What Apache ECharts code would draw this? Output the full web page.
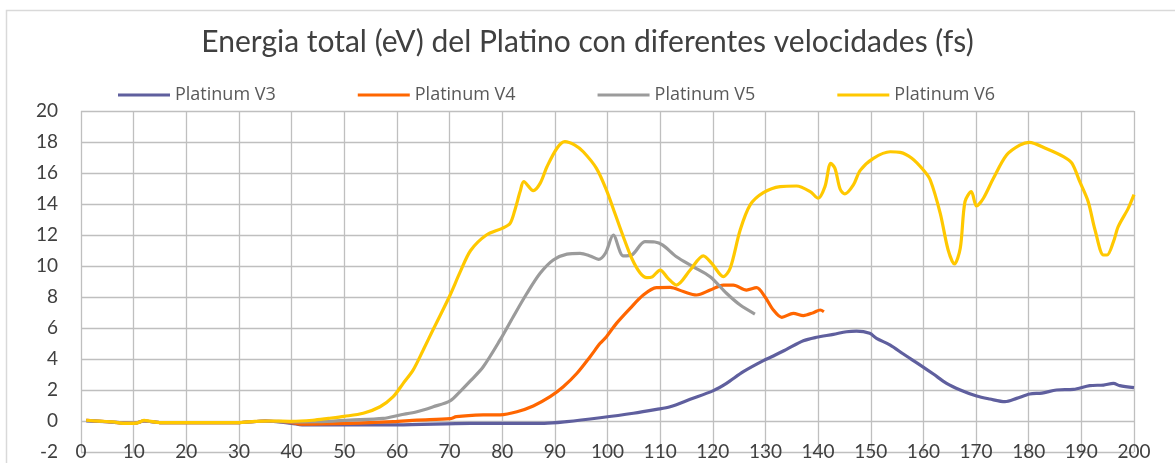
<!DOCTYPE html>
<html>
<head>
<meta charset="utf-8">
<script src="https://cdn.jsdelivr.net/npm/echarts@6/dist/echarts.min.js"></script>
<style>
html,body{margin:0;padding:0;background:#fff;}
#chart{width:1175px;height:463px;}
</style>
</head>
<body>
<div id="chart"></div>
<script>
const titleText = 'Energia total (eV) del Platino con diferentes velocidades (fs)';
const seriesNames = ['Platinum V3', 'Platinum V4', 'Platinum V5', 'Platinum V6'];
const seriesColors = ['#5F5F9E', '#FF6600', '#9B9B9B', '#FFC800'];

const v3X = [1,5,10,12,15,30,35,40,42,60,74,88,92.3,98.6,104.9,109.3,111.9,115.7,120.1,122.6,125.8,129.6,131.5,134,137.2,139.7,142.9,145.4,147.3,149.8,151.1,153.7,156.2,159.4,161.9,164.4,167,170.1,172.6,175.5,177.7,180.2,182.5,185.3,188.5,191.6,194.2,196.1,197.3,200];
const v3Y = [0,-0.05,-0.15,0,-0.1,-0.1,0,-0.15,-0.25,-0.25,-0.15,-0.15,-0.04,0.21,0.5,0.75,0.92,1.4,1.96,2.43,3.18,3.89,4.19,4.62,5.18,5.4,5.59,5.76,5.8,5.66,5.33,4.9,4.32,3.61,3.03,2.43,2.0,1.61,1.42,1.25,1.46,1.74,1.8,2.0,2.04,2.28,2.32,2.43,2.28,2.15];

const v4X = [1,5,10,12,15,30,35,40,41.6,51,59.3,63.8,70.1,71.3,76.4,79.6,82.8,85.9,89.1,91.6,94.2,96.7,98.6,99.8,101.7,104.3,106.8,109.3,111.9,114.4,116.9,119.5,122,123.9,126.4,128.3,129.9,131.5,133.1,135.3,137.2,139.1,140.4,141.1];
const v4Y = [0.05,-0.05,-0.15,0,-0.1,-0.1,0,-0.1,-0.2,-0.15,-0.04,0.06,0.15,0.28,0.39,0.4,0.6,0.97,1.57,2.21,3.08,4.15,5.01,5.44,6.3,7.27,8.13,8.6,8.62,8.35,8.13,8.45,8.77,8.77,8.45,8.6,8.02,7.16,6.69,6.95,6.8,6.99,7.16,7.05];

const v5X = [1,5,10,12,15,30,35,40,45,51,57.4,60.6,63.8,66.9,70.1,72,74,76.4,79.6,82.1,84.7,87.2,89.7,92.3,94.8,96.7,98.3,99.6,101.1,103,104.6,107.1,109,110.5,113.1,116.3,119.5,122.6,125.2,128];
const v5Y = [0.05,-0.05,-0.15,0,-0.1,-0.1,0,-0.05,-0.04,0.06,0.17,0.39,0.6,0.92,1.3,1.9,2.6,3.5,5.23,6.73,8.24,9.53,10.39,10.77,10.82,10.65,10.43,10.82,12.0,10.65,10.71,11.57,11.55,11.35,10.6,9.95,9.31,8.24,7.48,6.9];

const v6X = [1,3,6,8,10,11,12,13,15,20,25,30,33,36,40,44,47,50,53.6,56.8,59.3,61.2,63.1,65,67,70,72,74,77,80,81.5,82.4,83.4,84.1,85.9,87.2,88.5,90.4,91.9,93.8,95.4,97.9,99.8,101.4,103,104.6,106.2,107.5,108.5,110,111.5,113.1,115.7,118.2,119.8,122,123.3,125.2,127.1,129.6,132.8,135.9,138.5,140,141.3,142.4,143.2,144.2,145.1,146.7,148,150.5,153.7,155.6,157.8,160,161.3,163.2,164.7,165.9,167,167.9,169.1,170.1,171.4,173.3,175.8,178.3,180.1,183.4,186.6,188.2,189.7,191.3,192.6,194.2,194.9,196.1,197,198.9,200];
const v6Y = [0.05,0,-0.05,-0.15,-0.15,-0.1,0.05,0,-0.1,-0.1,-0.1,-0.1,-0.03,0,-0.02,0.05,0.17,0.3,0.5,0.92,1.57,2.43,3.3,4.58,5.98,8.05,9.6,11.0,12.0,12.43,12.75,13.6,14.8,15.44,14.86,15.33,16.4,17.6,18.02,17.8,17.37,16.3,14.9,13.4,11.89,10.5,9.55,9.25,9.3,9.74,9.2,8.77,9.74,10.65,10.17,9.31,9.85,12.32,13.94,14.73,15.12,15.16,14.8,14.37,15.12,16.63,16.3,14.95,14.65,15.23,16.17,16.95,17.37,17.33,16.95,16.19,15.55,13.4,11.03,10.13,11.14,14.15,14.8,13.87,14.37,15.66,17.16,17.8,17.98,17.56,17.05,16.63,15.44,14.15,12.32,10.71,10.71,11.57,12.54,13.72,14.6];

const xs = [v3X, v4X, v5X, v6X];
const ys = [v3Y, v4Y, v5Y, v6Y];

const chart = echarts.init(document.getElementById('chart'), null, {renderer: 'canvas'});
const font = 'Lato, "Liberation Sans", sans-serif';

const series = seriesNames.map((name, i) => ({
  name: name,
  type: 'line',
  data: xs[i].map((x, k) => [x, ys[i][k]]),
  showSymbol: false,
  smooth: 0.3,
  lineStyle: {color: seriesColors[i], width: 3.2},
  itemStyle: {color: seriesColors[i]},
  emphasis: {disabled: true},
  animation: false
}));

chart.setOption({
  animation: false,
  backgroundColor: '#fff',
  title: {
    text: titleText,
    left: 'center',
    top: 22,
    textStyle: {fontFamily: font, fontSize: 30, fontWeight: 'normal', color: '#404040'}
  },
  legend: {
    data: seriesNames,
    left: 113,
    top: 81,
    icon: 'rect',
    itemWidth: 52,
    itemHeight: 3,
    itemGap: 82,
    textStyle: {fontFamily: '"Open Sans", sans-serif', fontSize: 18, color: '#595959'}
  },
  graphic: [{
    type: 'rect',
    shape: {x: 6.5, y: 10.5, width: 1400, height: 700},
    style: {fill: 'none', stroke: '#D9D9D9', lineWidth: 1.5},
    silent: true
  }],
  grid: {left: 81, right: 41, top: 111, bottom: 11, containLabel: false},
  xAxis: {
    type: 'value',
    min: 0, max: 200, interval: 10,
    axisLine: {show: false},
    axisTick: {show: false},
    axisLabel: {fontFamily: font, fontSize: 19, color: '#404040', margin: -10},
    splitLine: {show: true, lineStyle: {color: '#BFBFBF', width: 1.3}}
  },
  yAxis: {
    type: 'value',
    min: -2, max: 20, interval: 2,
    axisLine: {show: false},
    axisTick: {show: false},
    axisLabel: {fontFamily: font, fontSize: 19, color: '#404040', margin: 23},
    splitLine: {show: true, lineStyle: {color: '#BFBFBF', width: 1.3}}
  },
  series: series
});
</script>
</body>
</html>
